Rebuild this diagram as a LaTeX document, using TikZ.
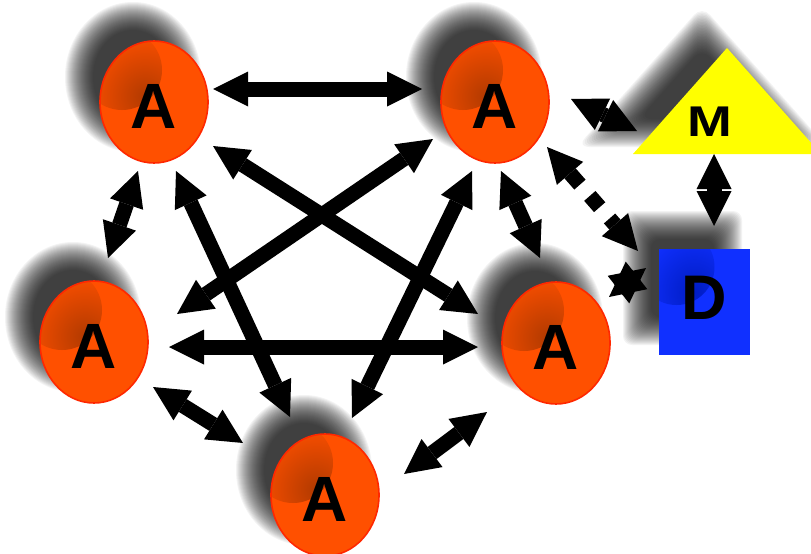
\documentclass[tikz,border=0pt]{standalone}
\usepackage{fontspec}
\setmainfont{Liberation Sans}
\usetikzlibrary{arrows.meta,calc,shapes.geometric}
\definecolor{orA}{RGB}{255,80,0}
\definecolor{orB}{RGB}{255,40,0}
\definecolor{orS}{RGB}{178,58,0}
\definecolor{blD}{RGB}{16,48,255}
\definecolor{blS}{RGB}{0,28,195}
\definecolor{yM}{RGB}{255,255,0}
\newcommand\Afont{\fontsize{64pt}{64pt}\selectfont\bfseries}
\newcommand\Dfont{\fontsize{63pt}{63pt}\selectfont\bfseries}
\newcommand\Mfont{\fontsize{43pt}{43pt}\selectfont\bfseries}
\tikzset{
  tipT/.tip={Triangle[length=35pt,width=35pt,line width=0pt]},
  dbl/.style={line width=15pt, black, tipT-tipT},
  anode/.style={ellipse, minimum width=108pt, minimum height=122pt, inner sep=0pt,
    fill=orA, draw=orB, line width=1.6pt, font=\Afont, text height=52pt,
    path picture={\shade[inner color=orS, outer color=orA]
      ($(path picture bounding box.center)+(-32,-32)$) circle (40);}},
  dnode/.style={rectangle, minimum width=91pt, minimum height=106pt, inner sep=0pt,
    fill=blD, font=\Dfont, text depth=9pt,
    path picture={\shade[inner color=blS, outer color=blD]
      ($(path picture bounding box.center)+(-28,-35)$) circle (38);}},
  shadowlayer/.style={fill=black, opacity=0.048},
}
\newcommand\ellshadow[1]{%
  \foreach \g in {14,13,...,-14}
    \fill[shadowlayer] ($(#1)+(-21,-25)$) ellipse [x radius=54+\g, y radius=61+\g];}
\begin{document}
\begin{tikzpicture}[x=1pt,y=-1pt]
\useasboundingbox (0,0) rectangle (811,554);
% centres
\coordinate (c1) at (154,102);
\coordinate (c2) at (495,102);
\coordinate (c3) at (94,342);
\coordinate (c4) at (556,343);
\coordinate (c5) at (325,495);
% shadows
\ellshadow{c1}\ellshadow{c2}\ellshadow{c3}\ellshadow{c4}\ellshadow{c5}
\foreach \g in {14,13,...,-14}
  \fill[shadowlayer, rounded corners=9pt] (659-22-\g,249-24-\g) rectangle (750-22+\g,355-24+\g);
\foreach \g in {14,13,...,-14}{
  \begin{scope}[shift={(702,90.7)}, scale={1+\g/42.3}]
    \fill[shadowlayer, rounded corners=12pt] (0,-63.7) -- (-94,42.3) -- (94,42.3) -- cycle;
  \end{scope}}
% triangle M
\fill[yM] (727,48) -- (633,154) -- (821,154) -- cycle;
\node[font=\Mfont, inner sep=0pt] (M) at (710,122) {\scalebox{1.25}[1]{M}};
% nodes
\node[anode] (A1) at (c1) {A};
\node[anode] (A2) at (c2) {A};
\node[anode] (A3) at (c3) {A};
\node[anode] (A4) at (c4) {A};
\node[anode] (A5) at (c5) {A};
\node[dnode] (D) at (704.5,302) {D};
% arrows
\draw[dbl] ($(A1)+(59,-13)$) -- ($(A2)+(-73,-13)$);
\draw[dbl] ($(A1)+(-16,69)$) -- ($(A3)+(14,-84)$);
\draw[dbl] ($(A1)+(22,69)$) -- ($(A5)+(-35,-78)$);
\draw[dbl] ($(A1)+(59,44)$) -- ($(A4)+(-78,-29)$);
\draw[dbl] ($(A2)+(-62,37)$) -- ($(A3)+(83,-28)$);
\draw[dbl] ($(A2)+(-23,69)$) -- ($(A5)+(27,-77)$);
\draw[dbl] ($(A2)+(6,69)$) -- ($(A4)+(-16,-85)$);
\draw[dbl] ($(A3)+(75,5)$) -- ($(A4)+(-78,4)$);
\draw[dbl] ($(A3)+(59,45)$) -- ($(A5)+(-82,-52)$);
\draw[dbl] ($(A5)+(79,-21)$) -- ($(A4)+(-69,69)$);
\draw[dbl] ($(A2)+(76,-3)$) -- ($(M)+(-73,9)$);
\draw[dbl, dash pattern=on 15pt off 15pt] ($(A2)+(52,45)$) -- ($(D)+(-66.5,-51)$);
\draw[dbl] ($(M)+(4,32)$) -- ($(D)+(9.5,-76)$);
\draw[dbl] ($(A4)+(53,-46)$) -- ($(D)+(-58.5,-34)$);
\end{tikzpicture}
\end{document}
